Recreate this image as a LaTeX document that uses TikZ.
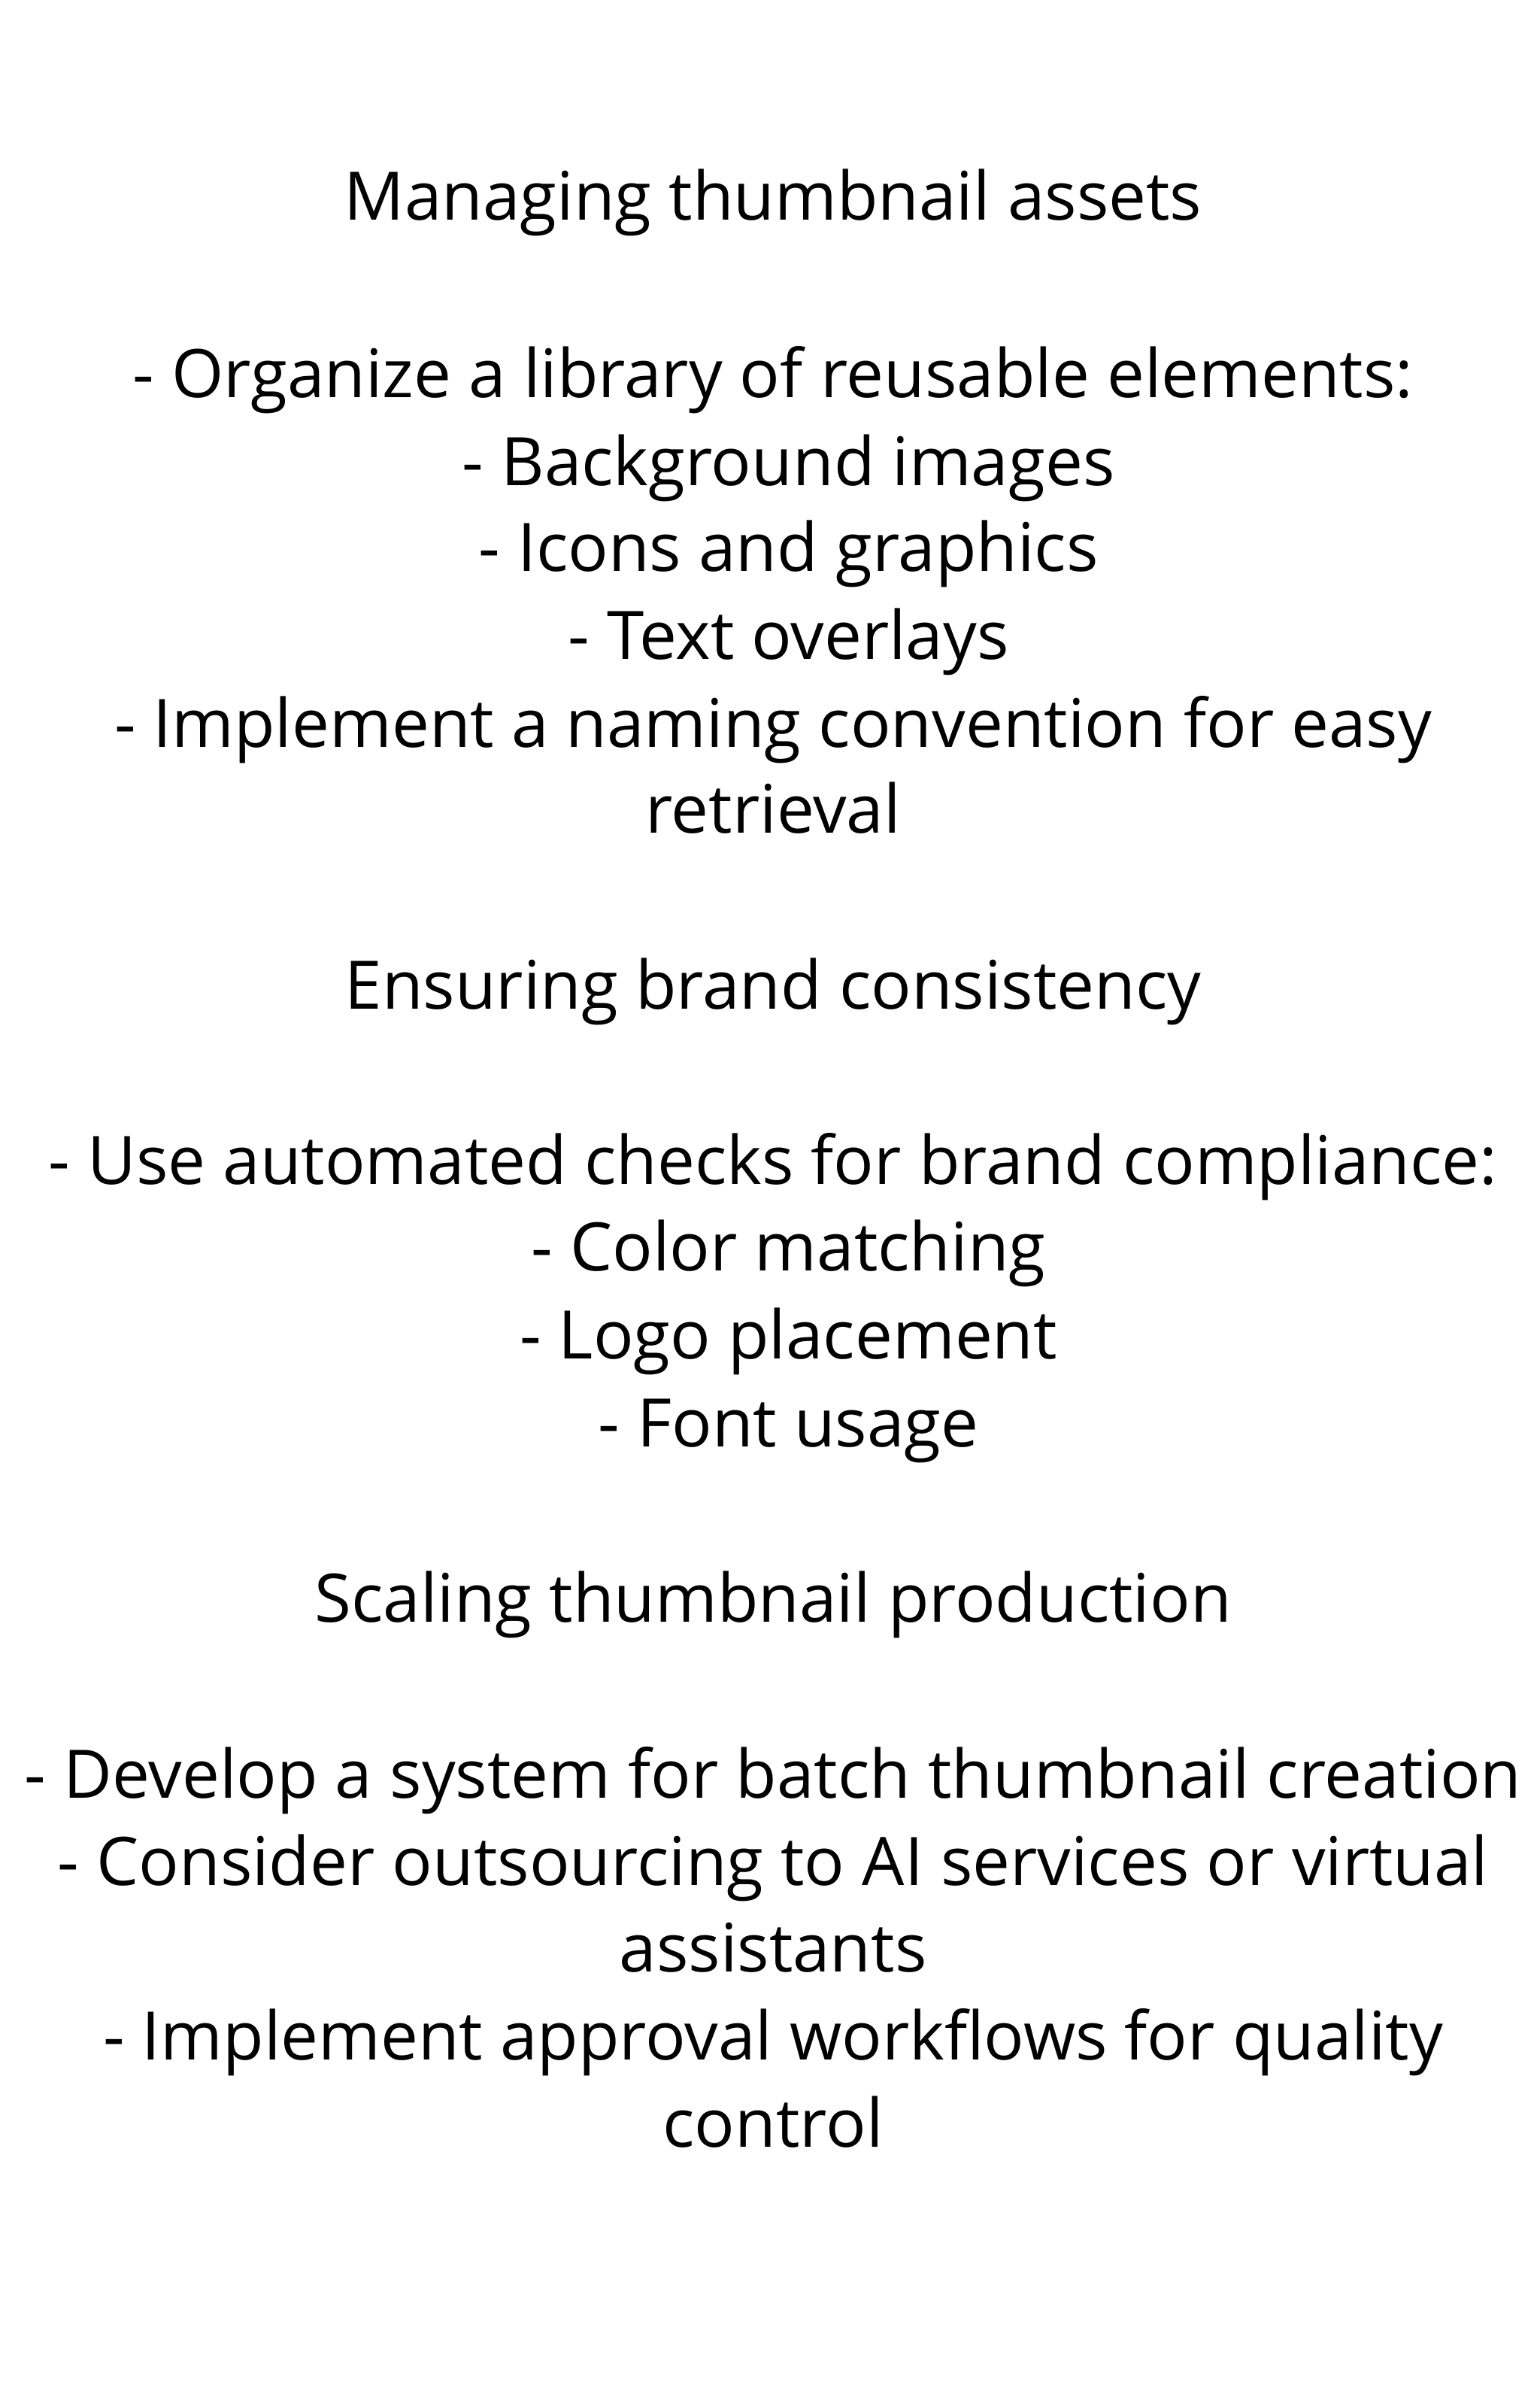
\documentclass[tikz,border=0pt]{standalone}
\usepackage{fontspec}
\setmainfont{Open Sans}
\begin{document}
\begin{tikzpicture}[x=2.048pt,y=-2.048pt,
  line/.style={anchor=base,inner sep=0pt,font=\fontsize{89}{100}\selectfont}]
\useasboundingbox[fill=white] (0,0) rectangle (1000,1562.5);
\node[line] (l1) at (502,143) {Managing thumbnail assets};
\node[line] (l2) at (502,258) {- Organize a library of reusable elements:};
\node[line] (l3) at (512,315) {- Background images};
\node[line] (l4) at (512,371) {- Icons and graphics};
\node[line] (l5) at (512,428) {- Text overlays};
\node[line] (l6) at (502,485) {- Implement a naming convention for easy};
\node[line] (l7) at (502,541) {retrieval};
\node[line] (l8) at (502,655) {Ensuring brand consistency};
\node[line] (l9) at (502,769) {- Use automated checks for brand compliance:};
\node[line] (l10) at (512,825) {- Color matching};
\node[line] (l11) at (512,882) {- Logo placement};
\node[line] (l12) at (512,939) {- Font usage};
\node[line] (l13) at (502,1053) {Scaling thumbnail production};
\node[line] (l14) at (502,1167) {- Develop a system for batch thumbnail creation};
\node[line] (l15) at (502,1224) {- Consider outsourcing to AI services or virtual};
\node[line] (l16) at (502,1280) {assistants};
\node[line] (l17) at (502,1337) {- Implement approval workflows for quality};
\node[line] (l18) at (502,1394) {control};
\end{tikzpicture}
\end{document}
